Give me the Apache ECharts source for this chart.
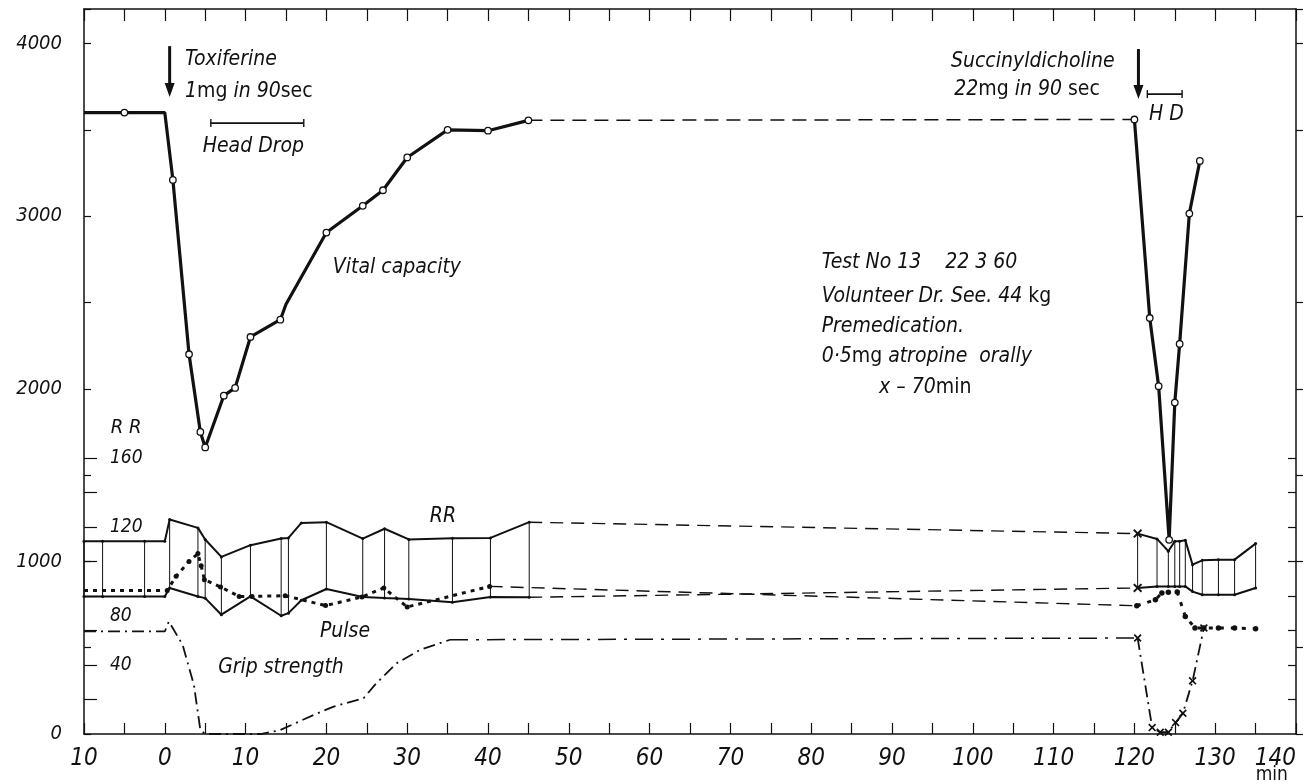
<!DOCTYPE html>
<html>
<head>
<meta charset="utf-8">
<script src="https://cdn.jsdelivr.net/npm/echarts@6/dist/echarts.min.js"></script>
<style>html,body{margin:0;padding:0;background:#fff}#c{width:1308px;height:784px}</style>
</head>
<body>
<div id="c"></div>
<script>
// ---------- tick labels ----------
const xTickValues = [-10, 0, 10, 20, 30, 40, 50, 60, 70, 80, 90, 100, 110, 120, 130, 140];
const yTickValues = [0, 1000, 2000, 3000, 4000];
const rrTickValues = [40, 80, 120, 160];
const rrMinorTicks = [20, 40, 60, 80, 100, 120, 140, 160];

// ---------- vital capacity (ml) ----------
const vcTime1 = [-10, -5, 0, 1, 3, 4.4, 5, 7.3, 8.7, 10.6, 14.3, 15, 20, 24.5, 27, 30, 35, 40, 45];
const vcVal1  = [3600, 3600, 3600, 3210, 2200, 1750, 1660, 1960, 2005, 2300, 2400, 2490, 2905, 3060, 3150, 3340, 3500, 3495, 3555];
const vcTime2 = [120, 121.9, 123, 124.3, 125, 125.6, 126.8, 128.1];
const vcVal2  = [3560, 2410, 2015, 1125, 1920, 2260, 3015, 3320];

// ---------- blood pressure RR (mmHg) ----------
const rrTime1 = [-10, -7.7, -2.5, 0, 0.6, 4.1, 5.0, 7.0, 10.6, 14.4, 15.3, 16.9, 20.0, 24.5, 27.2, 30.2, 35.6, 40.3, 45.1];
const rrSys1  = [111.7, 111.7, 111.7, 111.7, 124.3, 119.4, 112.7, 102.6, 109.4, 113.2, 113.6, 122.3, 122.7, 113.2, 118.9, 112.7, 113.4, 113.6, 122.7];
const rrDia1  = [79.7, 79.7, 79.7, 79.7, 84.6, 79.7, 78.7, 69.1, 79.7, 68.5, 70.0, 77.5, 84.0, 79.4, 78.8, 78.2, 76.3, 79.4, 79.2];
const rrTime2 = [120.4, 122.8, 124.2, 125.0, 125.6, 126.3, 127.2, 128.4, 130.4, 132.4, 135.0];
const rrSys2  = [116.1, 113.0, 105.9, 111.7, 111.7, 112.3, 98.1, 100.6, 101.0, 101.0, 110.3];
const rrDia2  = [84.6, 85.5, 85.5, 85.5, 85.5, 85.5, 82.5, 80.7, 80.7, 80.7, 84.6];

// ---------- pulse (per min) ----------
const pulseTime1 = [-10, 0.3, 1.4, 3.0, 4.1, 4.5, 4.9, 6.9, 9.2, 10.8, 14.9, 19.9, 24.4, 27.1, 30.0, 40.2];
const pulseVal1  = [83.2, 83.2, 91.4, 100, 104.5, 97.5, 89.4, 85.2, 79.7, 79.7, 80.1, 74.4, 79.4, 84.6, 73.6, 85.5];
const pulseTime2 = [120.3, 122.6, 123.4, 124.2, 125.3, 126.3, 127.5, 128.6, 130.4, 132.4, 135.0];
const pulseVal2  = [74.3, 77.8, 81.7, 82.1, 82.3, 68.1, 61.4, 61.4, 61.4, 61.4, 61.0];

// ---------- grip strength ----------
const gripTime1 = [-10, 0, 0.5, 2.2, 3.6, 4.4, 5, 12, 14.3, 18.4, 20.9, 24.6, 26, 28.7, 31.6, 35.3];
const gripVal1  = [59.4, 59.4, 65.2, 51.7, 28.5, 2.3, 0, 0, 2.3, 11, 15.9, 20.7, 28.5, 41, 48.8, 54.6];
const gripTime2 = [120.4, 122.2, 123.2, 124.2, 125.1, 126.0, 127.2, 128.6];
const gripVal2  = [55.6, 3.7, 1, 1, 6.6, 12, 30.8, 61.4];

// ---------- styling constants ----------
const vcNoMarkerTimes = [-10, 0, 15];
const rrNoStemTimes = [0, 16.9];
const FONT = '"DejaVu Sans Condensed","DejaVu Sans",sans-serif';
const XFONT = '"Liberation Sans Narrow","DejaVu Sans Condensed","DejaVu Sans",sans-serif';
const INK = '#111';
const X_SYM = 'path://M0,1.5L1.5,0L5,3.5L8.5,0L10,1.5L6.5,5L10,8.5L8.5,10L5,6.5L1.5,10L0,8.5L3.5,5Z';

const zip = (a, b) => a.map((t, i) => [t, b[i]]);
const last = a => a[a.length - 1];

const chart = echarts.init(document.getElementById('c'), null, {renderer: 'canvas'});

const lineBase = {type: 'line', xAxisIndex: 0, animation: false, silent: true, z: 3};

const stemData = rrTime1.map((t, i) => [t, rrSys1[i], rrDia1[i]])
  .filter(d => !rrNoStemTimes.includes(d[0]))
  .concat(rrTime2.map((t, i) => [t, rrSys2[i], rrDia2[i]]));

const option = {
  backgroundColor: '#fff',
  animation: false,
  textStyle: {fontFamily: FONT},
  grid: {left: 84, right: 12, top: 9, bottom: 50, containLabel: false, outerBoundsMode: 'none'},
  xAxis: [
    {
      type: 'value', min: -10, max: 140, interval: 5, position: 'bottom',
      axisLine: {show: true, onZero: false, lineStyle: {color: INK, width: 1.5}},
      axisTick: {show: true, inside: true, length: 11, lineStyle: {color: INK, width: 1.2}},
      splitLine: {show: false},
      axisLabel: {
        customValues: xTickValues, formatter: v => String(Math.abs(v)),
        alignMaxLabel: 'right',
        margin: 13, fontSize: 24, fontStyle: 'italic', color: INK, fontFamily: XFONT
      }
    },
    {
      type: 'value', min: -10, max: 140, interval: 5, position: 'top',
      axisLine: {show: true, onZero: false, lineStyle: {color: INK, width: 1.5}},
      axisTick: {show: true, inside: true, length: 12, lineStyle: {color: INK, width: 1.2}},
      axisLabel: {show: false}, splitLine: {show: false}
    }
  ],
  yAxis: [
    {
      type: 'value', min: 0, max: 4200, interval: 500, position: 'left',
      axisLine: {show: true, onZero: false, lineStyle: {color: INK, width: 1.5}},
      axisTick: {show: true, inside: true, length: 7, lineStyle: {color: INK, width: 1.2}},
      splitLine: {show: false},
      axisLabel: {customValues: yTickValues, formatter: v => String(v), margin: 22, fontSize: 20,
                  fontStyle: 'italic', color: INK, fontFamily: FONT}
    },
    {
      type: 'value', min: 0, max: 420, position: 'left',
      axisLine: {show: false, onZero: false},
      axisTick: {show: true, inside: true, length: 13, customValues: rrMinorTicks, lineStyle: {color: INK, width: 1.2}},
      splitLine: {show: false},
      axisLabel: {
        inside: true, customValues: rrTickValues, margin: 26,
        formatter: v => v === 80 ? '{low|' + v + '}' : String(v),
        fontSize: 19, fontStyle: 'italic', color: INK, fontFamily: FONT,
        rich: {low: {fontSize: 19, fontStyle: 'italic', color: INK, fontFamily: FONT, padding: [40, 0, 0, 0]}}
      }
    },
    {
      type: 'value', min: 0, max: 4200, interval: 500, position: 'right',
      axisLine: {show: true, onZero: false, lineStyle: {color: INK, width: 1.5}},
      axisTick: {show: true, inside: false, length: 7, lineStyle: {color: INK, width: 1.2}},
      axisLabel: {show: false}, splitLine: {show: false}
    },
    {
      type: 'value', min: 0, max: 420, position: 'right',
      axisLine: {show: false, onZero: false},
      axisTick: {show: true, inside: true, length: 8, customValues: rrMinorTicks, lineStyle: {color: INK, width: 1.2}},
      axisLabel: {show: false}, splitLine: {show: false}
    }
  ],
  series: [
    // RR stems
    {
      type: 'custom', xAxisIndex: 0, yAxisIndex: 1, silent: true, animation: false, z: 2,
      data: stemData,
      encode: {x: 0, y: [1, 2]},
      renderItem: (params, api) => {
        const p1 = api.coord([api.value(0), api.value(1)]);
        const p2 = api.coord([api.value(0), api.value(2)]);
        return {type: 'line', shape: {x1: p1[0], y1: p1[1], x2: p2[0], y2: p2[1]},
                style: {stroke: INK, lineWidth: 1}};
      }
    },
    // RR systolic / diastolic
    Object.assign({}, lineBase, {yAxisIndex: 1, data: zip(rrTime1, rrSys1), symbol: 'circle', symbolSize: 3,
      itemStyle: {color: INK}, lineStyle: {color: INK, width: 2}}),
    Object.assign({}, lineBase, {yAxisIndex: 1, data: zip(rrTime1, rrDia1), symbol: 'circle', symbolSize: 3,
      itemStyle: {color: INK}, lineStyle: {color: INK, width: 2}}),
    Object.assign({}, lineBase, {yAxisIndex: 1, data: [[last(rrTime1), last(rrSys1)], [rrTime2[0], rrSys2[0]]], symbol: 'none',
      lineStyle: {color: INK, width: 1.4, type: [13, 8]}}),
    Object.assign({}, lineBase, {yAxisIndex: 1, data: [[last(rrTime1), last(rrDia1)], [rrTime2[0], rrDia2[0]]], symbol: 'none',
      lineStyle: {color: INK, width: 1.4, type: [13, 8]}}),
    Object.assign({}, lineBase, {yAxisIndex: 1, data: zip(rrTime2, rrSys2),
      symbol: (v, p) => p.dataIndex === 0 ? X_SYM : 'circle', symbolSize: (v, p) => p.dataIndex === 0 ? 9 : 3,
      itemStyle: {color: INK}, lineStyle: {color: INK, width: 2}}),
    Object.assign({}, lineBase, {yAxisIndex: 1, data: zip(rrTime2, rrDia2),
      symbol: (v, p) => p.dataIndex === 0 ? X_SYM : 'circle', symbolSize: (v, p) => p.dataIndex === 0 ? 9 : 3,
      itemStyle: {color: INK}, lineStyle: {color: INK, width: 2}}),
    // pulse
    Object.assign({}, lineBase, {yAxisIndex: 1, data: zip(pulseTime1, pulseVal1),
      symbol: (v, p) => p.dataIndex === 0 ? 'none' : 'circle', symbolSize: 5,
      itemStyle: {color: INK}, lineStyle: {color: INK, width: 3, type: [4, 5]}}),
    Object.assign({}, lineBase, {yAxisIndex: 1, data: [[last(pulseTime1), last(pulseVal1)], [pulseTime2[0], pulseVal2[0]]], symbol: 'none',
      lineStyle: {color: INK, width: 1.4, type: [13, 8]}}),
    Object.assign({}, lineBase, {yAxisIndex: 1, data: zip(pulseTime2, pulseVal2), symbol: 'circle', symbolSize: 5.5,
      itemStyle: {color: INK}, lineStyle: {color: INK, width: 3, type: [4, 7]}}),
    // grip strength
    Object.assign({}, lineBase, {yAxisIndex: 1, data: zip(gripTime1, gripVal1), symbol: 'none',
      lineStyle: {color: INK, width: 1.8, type: [12, 5, 2, 5]}}),
    Object.assign({}, lineBase, {yAxisIndex: 1, data: [[last(gripTime1), last(gripVal1)], [gripTime2[0], gripVal2[0]]], symbol: 'none',
      lineStyle: {color: INK, width: 1.5, type: [18, 8, 3, 8]}}),
    Object.assign({}, lineBase, {yAxisIndex: 1, data: zip(gripTime2, gripVal2), symbol: X_SYM, symbolSize: 8,
      itemStyle: {color: INK}, lineStyle: {color: INK, width: 1.8, type: [12, 5, 2, 5]}}),
    // vital capacity
    Object.assign({}, lineBase, {yAxisIndex: 0, z: 5, data: zip(vcTime1, vcVal1),
      symbol: (v, p) => vcNoMarkerTimes.includes(vcTime1[p.dataIndex]) ? 'none' : 'circle', symbolSize: 6.5,
      itemStyle: {color: '#fff', borderColor: INK, borderWidth: 1.3}, lineStyle: {color: INK, width: 3.2}}),
    Object.assign({}, lineBase, {yAxisIndex: 0, z: 4, data: [[last(vcTime1), last(vcVal1)], [vcTime2[0], vcVal2[0]]], symbol: 'none',
      lineStyle: {color: INK, width: 1.5, type: [14, 8]}}),
    Object.assign({}, lineBase, {yAxisIndex: 0, z: 5, data: zip(vcTime2, vcVal2), symbol: 'circle', symbolSize: 6.5,
      itemStyle: {color: '#fff', borderColor: INK, borderWidth: 1.3}, lineStyle: {color: INK, width: 3.2}})
  ]
};
chart.setOption(option);

// ---------- annotations (anchored in data coordinates: minutes, ml) ----------
const px = (t, v) => chart.convertToPixel({gridIndex: 0}, [t, v]);
const txt = (t, v, text, size, rich, style) => {
  const p = px(t, v);
  const s = Object.assign({text: text, x: 0, y: 0, fontFamily: FONT, fontSize: size || 21, fontStyle: 'italic', fill: INK,
             align: 'left', verticalAlign: 'middle'}, style || {});
  if (rich) s.rich = rich;
  return {type: 'text', x: p[0], y: p[1], style: s, z: 10, silent: true};
};
const R = (size) => ({
  i: {fontFamily: FONT, fontSize: size, fontStyle: 'italic', fill: INK, color: INK},
  u: {fontFamily: FONT, fontSize: size, fontStyle: 'normal', fill: INK, color: INK}
});
const arrow = (t, v1, v2) => {
  const a = px(t, v1), b = px(t, v2);
  return [
    {type: 'line', shape: {x1: a[0], y1: a[1], x2: b[0], y2: b[1] - 10}, style: {stroke: INK, lineWidth: 3}, z: 10, silent: true},
    {type: 'polygon', shape: {points: [[b[0] - 5, b[1] - 14], [b[0] + 5, b[1] - 14], [b[0], b[1]]]}, style: {fill: INK}, z: 10, silent: true}
  ];
};
const bracket = (t1, t2, v) => {
  const a = px(t1, v), b = px(t2, v);
  return [
    {type: 'line', shape: {x1: a[0], y1: a[1], x2: b[0], y2: b[1]}, style: {stroke: INK, lineWidth: 1.6}, z: 10, silent: true},
    {type: 'line', shape: {x1: a[0], y1: a[1] - 4, x2: a[0], y2: a[1] + 4}, style: {stroke: INK, lineWidth: 1.4}, z: 10, silent: true},
    {type: 'line', shape: {x1: b[0], y1: b[1] - 4, x2: b[0], y2: b[1] + 4}, style: {stroke: INK, lineWidth: 1.4}, z: 10, silent: true}
  ];
};

const graphics = [].concat(
  [txt(2.5, 3910, 'Toxiferine'),
   txt(2.5, 3720, '{i|1}{u|mg}{i| in 90}{u|sec}', 21, R(21)),
   txt(4.7, 3405, 'Head Drop'),
   txt(20.8, 2703, 'Vital capacity'),
   txt(97.3, 3898, 'Succinyldicholine'),
   txt(97.7, 3736, '{i|22}{u|mg}{i| in 90 }{u|sec}', 21, R(21)),
   txt(121.8, 3591, 'H D'),
   txt(81.3, 2732, 'Test No 13    22 3 60'),
   txt(81.3, 2535, '{i|Volunteer Dr. See. 44 }{u|kg}', 21, R(21)),
   txt(81.3, 2361, 'Premedication.'),
   txt(81.3, 2187, '{i|0·5}{u|mg}{i| atropine  orally}', 21, R(21)),
   txt(88.4, 2007, '{i|x – 70}{u|min}', 21, R(21)),
   txt(-6.7, 1775, 'R R', 20),
   txt(32.8, 1259, 'RR', 21),
   txt(19.2, 592, 'Pulse'),
   txt(6.6, 383, 'Grip strength'),
   txt(139, -240, 'min', 19, null, {fontStyle: 'normal', align: 'right'})],
  arrow(0.6, 3985, 3690),
  arrow(120.5, 3968, 3678),
  bracket(5.7, 17.2, 3539),
  bracket(121.6, 125.9, 3707)
);
chart.setOption({graphic: graphics});
</script>
</body>
</html>
